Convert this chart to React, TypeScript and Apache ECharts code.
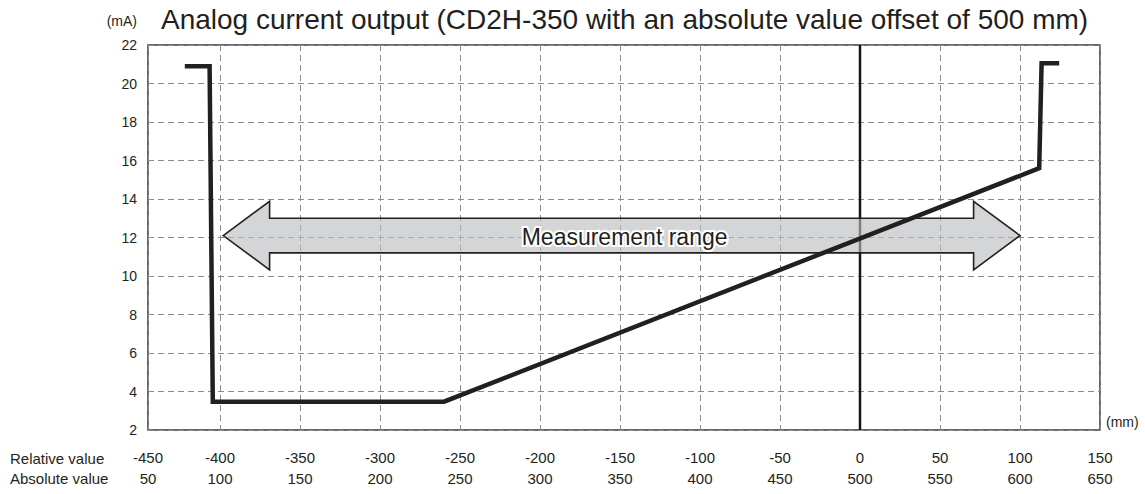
import React, { useEffect, useRef } from "react";
import * as echarts from "echarts";

// ---- data ----
const relativeTicks = [-450, -400, -350, -300, -250, -200, -150, -100, -50, 0, 50, 100, 150];
const absoluteTicks = [50, 100, 150, 200, 250, 300, 350, 400, 450, 500, 550, 600, 650];
const outputX = [-422, -406.5, -404.5, -260, 112, 113.5, 124.5];
const outputY = [20.9, 20.9, 3.47, 3.47, 15.6, 21.05, 21.05];
const zeroLineX = [0, 0];
const zeroLineY = [2, 22];
// measurement range arrow: start, end, center level (mA)
const rangeStart = -398;
const rangeEnd = 100;
const rangeLevel = 12.1;
const rangeLabel = "Measurement range";

const FONT = "'Liberation Sans', Arial, Helvetica, sans-serif";
const INK = "#231f20";

export default function App() {
  const ref = useRef<HTMLDivElement>(null);

  useEffect(() => {
    if (!ref.current) return;
    const chart = echarts.init(ref.current, undefined, { renderer: "svg" });

    const lineData = outputX.map((x, i) => [x, outputY[i]]);
    const zeroData = zeroLineX.map((x, i) => [x, zeroLineY[i]]);
    const tickIndex = (v: number) => Math.round((v - relativeTicks[0]) / 50);

    const commonX = {
      type: "value",
      min: -445,
      max: 150,
      splitNumber: 12,
      minInterval: 50,
      maxInterval: 50,
      axisLine: { show: false },
      axisTick: { show: false },
    };

    chart.setOption({
      animation: false,
      backgroundColor: "#ffffff",
      title: {
        text: "Analog current output (CD2H-350 with an absolute value offset of 500 mm)",
        left: 161,
        top: 5,
        padding: 0,
        textStyle: { fontSize: 28, fontWeight: "normal", color: INK, fontFamily: FONT },
      },
      grid: {
        left: 148,
        right: 45,
        top: 45,
        bottom: 64,
        show: true,
        borderColor: "#3a3a3a",
        borderWidth: 1.5,
      },
      xAxis: [
        {
          ...commonX,
          position: "bottom",
          axisLabel: {
            margin: 20,
            fontSize: 15,
            color: INK,
            fontFamily: FONT,
            formatter: (v: number) => String(relativeTicks[tickIndex(v)] ?? ""),
          },
          splitLine: {
            show: true,
            lineStyle: { color: "#8c8c8c", width: 1, type: [6, 4] },
          },
        },
        {
          ...commonX,
          position: "bottom",
          offset: 20.6,
          axisLabel: {
            margin: 20,
            fontSize: 15,
            color: INK,
            fontFamily: FONT,
            formatter: (v: number) => String(absoluteTicks[tickIndex(v)] ?? ""),
          },
          splitLine: { show: false },
        },
      ],
      yAxis: {
        type: "value",
        min: 2,
        max: 22,
        interval: 2,
        axisLine: { show: false },
        axisTick: { show: false },
        axisLabel: { margin: 11, fontSize: 14, color: INK, fontFamily: FONT },
        splitLine: {
          show: true,
          lineStyle: { color: "#8c8c8c", width: 1, type: [6, 4] },
        },
      },
      graphic: [
        {
          type: "text",
          x: 137,
          y: 21,
          style: { text: "(mA)", fill: INK, font: `14px ${FONT}`, align: "right", verticalAlign: "middle", textAlign: "right", textVerticalAlign: "middle" },
        },
        {
          type: "text",
          x: 1106,
          y: 422,
          style: { text: "(mm)", fill: INK, font: `14px ${FONT}`, align: "left", verticalAlign: "middle", textAlign: "left", textVerticalAlign: "middle" },
        },
        {
          type: "text",
          x: 10,
          y: 458,
          style: { text: "Relative value", fill: INK, font: `15px ${FONT}`, align: "left", verticalAlign: "middle", textAlign: "left", textVerticalAlign: "middle" },
        },
        {
          type: "text",
          x: 10,
          y: 478.5,
          style: { text: "Absolute value", fill: INK, font: `15px ${FONT}`, align: "left", verticalAlign: "middle", textAlign: "left", textVerticalAlign: "middle" },
        },
      ],
      series: [
        {
          type: "line",
          data: zeroData,
          symbol: "none",
          silent: true,
          z: 1,
          lineStyle: { color: "#151515", width: 2.5 },
        },
        {
          type: "custom",
          z: 3,
          silent: true,
          clip: false,
          data: [[(rangeStart + rangeEnd) / 2, rangeLevel]],
          renderItem: (params: any, api: any) => {
            const head = 29;
            const shaft = 0.9;
            const wing = 1.78;
            const pts = [
              [rangeStart, rangeLevel],
              [rangeStart + head, rangeLevel + wing],
              [rangeStart + head, rangeLevel + shaft],
              [rangeEnd - head, rangeLevel + shaft],
              [rangeEnd - head, rangeLevel + wing],
              [rangeEnd, rangeLevel],
              [rangeEnd - head, rangeLevel - wing],
              [rangeEnd - head, rangeLevel - shaft],
              [rangeStart + head, rangeLevel - shaft],
              [rangeStart + head, rangeLevel - wing],
            ].map((p) => api.coord(p));
            const c = api.coord([api.value(0), api.value(1)]);
            return {
              type: "group",
              children: [
                {
                  type: "polygon",
                  shape: { points: pts },
                  style: { fill: "rgba(187,189,191,0.64)", stroke: INK, lineWidth: 1.6 },
                },
                {
                  type: "text",
                  x: c[0] + 3,
                  y: c[1] + 1,
                  style: {
                    text: rangeLabel,
                    fill: INK,
                    font: `23px ${FONT}`,
                    align: "center",
                    verticalAlign: "middle",
                    textAlign: "center",
                    textVerticalAlign: "middle",
                    stroke: "#ffffff",
                    lineWidth: 4,
                  },
                },
              ],
            };
          },
        },
        {
          type: "line",
          data: lineData,
          symbol: "none",
          silent: true,
          z: 4,
          lineStyle: { color: INK, width: 4.5, join: "miter", cap: "butt" },
        },
      ],
    });

    return () => {
      chart.dispose();
    };
  }, []);

  return (
    <div
      ref={ref}
      style={{ position: "absolute", left: 0, top: 0, width: 1145, height: 494 }}
    />
  );
}
